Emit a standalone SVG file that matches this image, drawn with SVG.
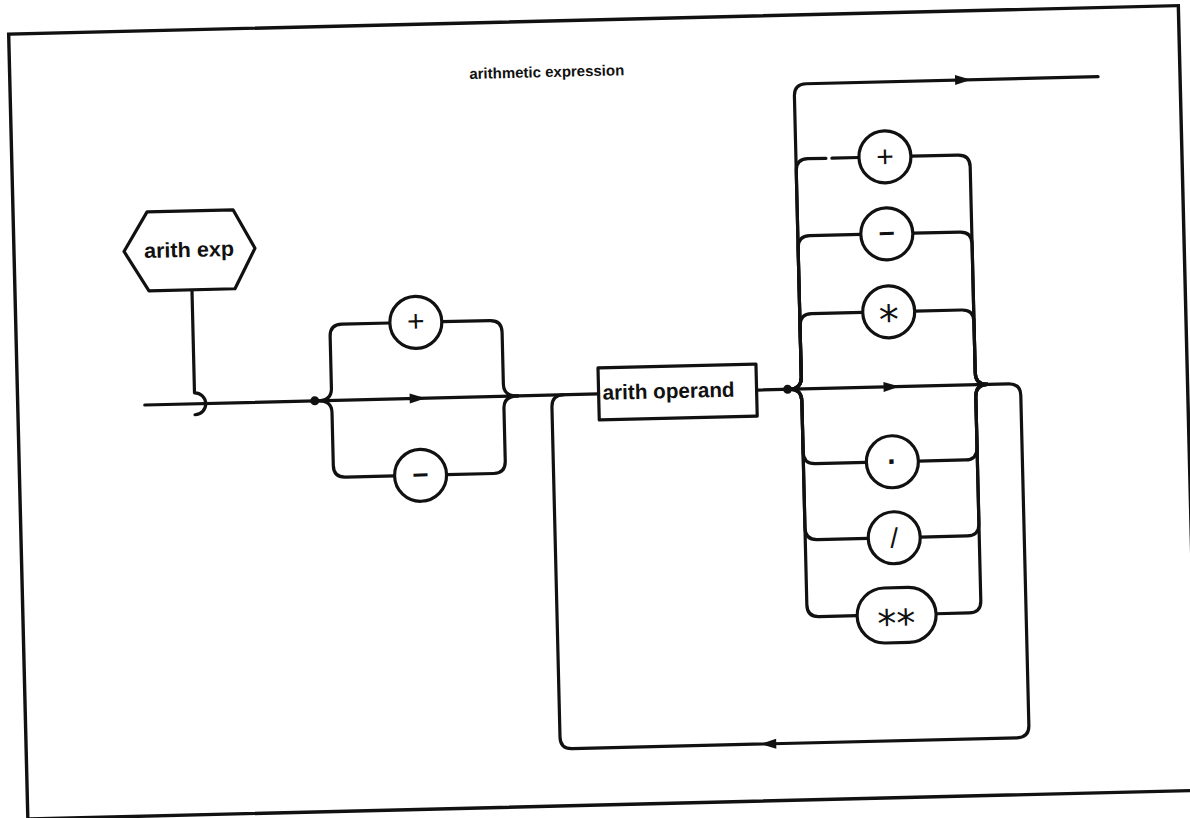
<svg xmlns="http://www.w3.org/2000/svg" xmlns:xlink="http://www.w3.org/1999/xlink" width="1190" height="818" viewBox="0 0 1190 818">
<style>
.ln{fill:none;stroke:#111;stroke-width:3.2;stroke-linecap:round;stroke-linejoin:round}
.sh{fill:#fff;stroke:#111;stroke-width:3.2;stroke-linejoin:round}
.fr{fill:none;stroke:#111;stroke-width:3.4}
.op{font-family:"Liberation Sans",Arial,sans-serif;fill:#111;text-anchor:middle}
.ast{font-family:"DejaVu Sans","Liberation Sans",sans-serif;fill:#111;text-anchor:middle}
.lbl{font-family:"Liberation Sans",Arial,sans-serif;fill:#111}
.dot{fill:#111}
</style>
<defs>
<path id="arr" d="M-8,-5 L8,0 L-8,5 Z" fill="#111"/>
</defs>
<rect width="1190" height="818" fill="#fff"/>
<g transform="rotate(-1.4 595 409)">
<rect class="fr" x="18" y="20" width="1170" height="785"/>
<text class="lbl" x="555" y="76" font-size="15" font-weight="bold" text-anchor="middle" textLength="155" lengthAdjust="spacingAndGlyphs">arithmetic expression</text>

<g id="connectors">
<path class="ln" d="M195,280 L195,383 A11,11 0 0 1 195,405"/>
<path class="ln" d="M145,394 L599,394"/>
<path class="ln" d="M757,394 L1009,394 Q1021,394 1021,406 L1021,736 Q1021,748 1009,748 L564,748 Q552,748 552,736 L552,406 Q552,394 564,394"/>
<path class="ln" d="M318,394 Q332,394 332,382 L332,330 Q332,318 344,318 L392,318 M444,318 L492,318 Q504,318 504,330 L504,382 Q504,394 518,394"/>
<path class="ln" d="M318,394 Q332,394 332,406 L332,459 Q332,471 344,471 L393,471 M445,471 L492,471 Q504,471 504,459 L504,406 Q504,394 518,394"/>
<path class="ln" d="M790,394 Q802,394 802,382 L802,101 Q802,89 814,89 L1106,89"/>
<path class="ln" d="M790,394 Q802,394 802,382 L802,176 Q802,164 814,164 L832,164 M838,164 L865,164 M917,164 L964,164 Q976,164 976,176 L976,382 Q976,394 988,394"/>
<path class="ln" d="M790,394 Q802,394 802,382 L802,253 Q802,241 814,241 L865,241 M917,241 L964,241 Q976,241 976,253 L976,382 Q976,394 988,394"/>
<path class="ln" d="M790,394 Q802,394 802,382 L802,331 Q802,319 814,319 L865,319 M917,319 L964,319 Q976,319 976,331 L976,382 Q976,394 988,394"/>
<path class="ln" d="M790,394 Q802,394 802,406 L802,457 Q802,469 814,469 L865,469 M917,469 L964,469 Q976,469 976,457 L976,406 Q976,394 988,394"/>
<path class="ln" d="M790,394 Q802,394 802,406 L802,533 Q802,545 814,545 L865,545 M917,545 L964,545 Q976,545 976,533 L976,406 Q976,394 988,394"/>
<path class="ln" d="M790,394 Q802,394 802,406 L802,610 Q802,622 814,622 L852,622 M931,622 L964,622 Q976,622 976,610 L976,406 Q976,394 988,394"/>
<circle class="dot" cx="315" cy="394" r="4.5"/>
<circle class="dot" cx="788" cy="394" r="4.5"/>
<use xlink:href="#arr" transform="translate(418,394)"/>
<use xlink:href="#arr" transform="translate(892,394)"/>
<use xlink:href="#arr" transform="translate(971,89)"/>
<use xlink:href="#arr" transform="translate(760,748) rotate(180)"/>
</g>

<g id="arith-exp">
<polygon class="sh" points="128,240 152,201 238,201 259,240 238,280 152,280"/>
<text class="lbl" x="193" y="247" font-size="21" font-weight="bold" text-anchor="middle" textLength="90" lengthAdjust="spacingAndGlyphs">arith exp</text>
</g>

<g id="sign-plus">
<circle class="sh" cx="418" cy="318" r="26"/>
<text class="op" x="418" y="327" font-size="30">+</text>
</g>
<g id="sign-minus">
<circle class="sh" cx="419" cy="471" r="26"/>
<text class="op" x="419" y="480" font-size="28" font-weight="bold">−</text>
</g>

<g id="arith-operand">
<rect class="sh" x="599" y="368" width="158" height="52"/>
<text class="lbl" x="603" y="400" font-size="21" font-weight="600" textLength="132" lengthAdjust="spacingAndGlyphs">arith operand</text>
</g>

<g id="op-plus">
<circle class="sh" cx="891" cy="164" r="26"/>
<text class="op" x="891" y="174" font-size="30">+</text>
</g>
<g id="op-minus">
<circle class="sh" cx="891" cy="241" r="26"/>
<text class="op" x="891" y="250" font-size="28" font-weight="bold">−</text>
</g>
<g id="op-times">
<circle class="sh" cx="891" cy="319" r="26"/>
<text class="ast" x="891" y="341" font-size="40">*</text>
</g>
<g id="op-dot">
<circle class="sh" cx="891" cy="469" r="26"/>
<text class="op" x="891" y="479" font-size="30" font-weight="bold">·</text>
</g>
<g id="op-div">
<circle class="sh" cx="891" cy="545" r="26"/>
<text class="op" x="891" y="555" font-size="28">/</text>
</g>
<g id="op-pow">
<rect class="sh" x="852" y="595" width="79" height="55" rx="27.5" ry="27.5"/>
<text class="ast" x="891" y="644" font-size="38">**</text>
</g>
</g>
</svg>
